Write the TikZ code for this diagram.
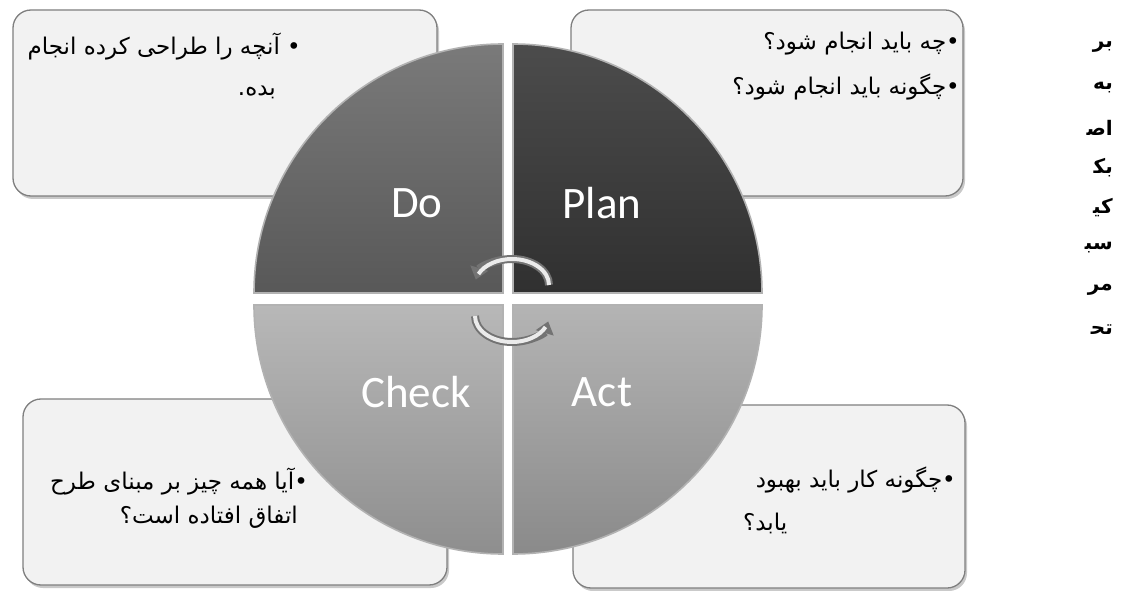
\documentclass[tikz,border=0pt]{standalone}
\usepackage{fontspec}
\setmainfont{Carlito}
\newfontfamily\fa[Script=Arabic]{DejaVu Sans}
\TeXXeTstate=1
\usetikzlibrary{shadows,arrows.meta}
\definecolor{boxfill}{HTML}{F2F2F2}
\definecolor{boxline}{HTML}{7F7F7F}
\definecolor{doTop}{HTML}{7A7A7A}
\definecolor{doBot}{HTML}{585858}
\definecolor{planTop}{HTML}{4C4C4C}
\definecolor{planBot}{HTML}{303030}
\definecolor{chkTop}{HTML}{B8B8B8}
\definecolor{chkBot}{HTML}{8E8E8E}
\definecolor{actTop}{HTML}{B4B4B4}
\definecolor{actBot}{HTML}{8A8A8A}
\begin{document}
\begin{tikzpicture}[x=1pt,y=1pt,
  infobox/.style={draw=boxline, line width=1.3pt, fill=boxfill, rounded corners=18pt,
    drop shadow={shadow xshift=2pt, shadow yshift=-3pt, opacity=0.35, fill=black!60}},
  fatext/.style={font=\fa\fontsize{23}{26}\selectfont, inner sep=0pt, text=black},
  sidetext/.style={font=\fa\bfseries\fontsize{20}{24}\selectfont, inner sep=0pt, anchor=east},
  pdca/.style={font=\fontsize{45}{50}\selectfont, text=white, inner sep=0pt},
  quad/.style={draw=black!30, line width=1.6pt},
  cycarrow/.style={line width=8pt, draw=black!55, -{Triangle[length=12pt,width=18pt]}},
  cychi/.style={line width=4pt, draw=black!8}]
\useasboundingbox (0,0) rectangle (1122,590);
\fill[white] (0,0) rectangle (1122,590);

% boxes
\node[infobox, minimum width=424pt, minimum height=186pt] (boxDo) at (225,487) {};
\node[infobox, minimum width=392pt, minimum height=186pt] (boxPlan) at (767,487) {};
\node[infobox, minimum width=424pt, minimum height=186pt] (boxCheck) at (235,98) {};
\node[infobox, minimum width=392pt, minimum height=183pt] (boxAct) at (769,93.5) {};

% box texts
\node[fatext, anchor=east] (tDo1) at (301,543) {\beginR • آنچه را طراحی کرده انجام\endR};
\node[fatext, anchor=east] (tDo2) at (276,498) {\beginR بده.\endR};
\node[fatext, anchor=east] (tPlan1) at (960,546) {\beginR •چه باید انجام شود؟\endR};
\node[fatext, anchor=east] (tPlan2) at (960,503) {\beginR •چگونه باید انجام شود؟\endR};
\node[fatext, anchor=east] (tChk1) at (308,108) {\beginR •آیا همه چیز بر مبنای طرح\endR};
\node[fatext, anchor=east] (tChk2) at (298,73) {\beginR اتفاق افتاده است؟\endR};
\node[fatext, anchor=east] (tAct1) at (956,110) {\beginR •چگونه کار باید بهبود\endR};
\node[fatext, anchor=west] (tAct2) at (743,67) {\beginR یابد؟\endR};

% quadrants
\path[quad, top color=doTop, bottom color=doBot] (503,297) -- (254,297) arc[start angle=180, end angle=90, radius=249] -- cycle;
\path[quad, top color=planTop, bottom color=planBot] (513,297) -- (513,546) arc[start angle=90, end angle=0, radius=249] -- cycle;
\path[quad, top color=chkTop, bottom color=chkBot] (503,285) -- (503,36) arc[start angle=270, end angle=180, radius=249] -- cycle;
\path[quad, top color=actTop, bottom color=actBot] (513,285) -- (762,285) arc[start angle=0, end angle=-90, radius=249] -- cycle;

\node[pdca] (lDo) at (417,387) {Do};
\node[pdca] (lPlan) at (602,387) {Plan};
\node[pdca] (lCheck) at (416,198) {Check};
\node[pdca] (lAct) at (602,198) {Act};

% cycle arrows
\coordinate (upR) at (549,305);
\coordinate (loL) at (475,274);
\draw[cycarrow] (upR) arc[start angle=0, end angle=168, x radius=37, y radius=26];
\draw[cychi] (upR) arc[start angle=0, end angle=155, x radius=37, y radius=26];
\draw[cycarrow] (loL) arc[start angle=180, end angle=348, x radius=37, y radius=26];
\draw[cychi] (loL) arc[start angle=180, end angle=335, x radius=37, y radius=26];

% side text column
\node[sidetext] (s1) at (1113,543) {\beginR بر\endR};
\node[sidetext] (s2) at (1113,502) {\beginR به\endR};
\node[sidetext] (s3) at (1113,462) {\beginR اص‍\endR};
\node[sidetext] (s4) at (1113,422) {\beginR بک‍\endR};
\node[sidetext] (s5) at (1113,382) {\beginR کی‍\endR};
\node[sidetext] (s6) at (1113,342) {\beginR سب‍\endR};
\node[sidetext] (s7) at (1113,300) {\beginR مر\endR};
\node[sidetext] (s8) at (1113,260) {\beginR تح‍\endR};
\end{tikzpicture}
\end{document}
